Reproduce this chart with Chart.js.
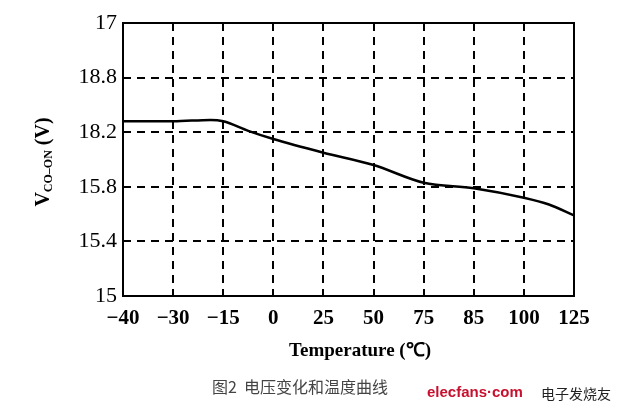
<!DOCTYPE html>
<html>
<head>
<meta charset="utf-8">
<script src="https://cdn.jsdelivr.net/npm/chart.js@4"></script>
<style>
  html, body { margin: 0; padding: 0; background: #fff; }
  #wrap { width: 630px; height: 414px; position: relative; }
</style>
</head>
<body>
<div id="wrap"><canvas id="chart" width="630" height="414"></canvas></div>
<script>
// Axis labels as printed on the figure (equally spaced)
const xTickLabels = ['\u221240', '\u221230', '\u221215', '0', '25', '50', '75', '85', '100', '125'];
const yTickValues = [15, 15.4, 15.8, 16.2, 16.6, 17];
const yTickLabels = ['15', '15.4', '15.8', '18.2', '18.8', '17'];

// Curve: x = position along the temperature axis, y = voltage
const curveX = [0, 1, 1.75, 2, 2.5, 3, 4, 5, 6, 7, 8, 8.5, 9];
const curveY = [16.28, 16.28, 16.29, 16.28, 16.21, 16.15, 16.05, 15.96, 15.83, 15.79, 15.72, 15.67, 15.59];

const points = curveX.map((x, i) => ({ x, y: curveY[i] }));

const textPlugin = {
  id: 'figureText',
  afterDraw(chart) {
    const ctx = chart.ctx;
    const area = chart.chartArea;
    ctx.save();

    // solid frame
    ctx.strokeStyle = '#000';
    ctx.lineWidth = 2;
    ctx.strokeRect(area.left, area.top, area.right - area.left, area.bottom - area.top);

    // x axis title
    ctx.fillStyle = '#000';
    ctx.font = 'bold 19px "Liberation Serif", serif';
    ctx.textAlign = 'center';
    ctx.textBaseline = 'middle';
    ctx.fillText('Temperature (\u2103)', 360, 351);

    // y axis title with subscript
    ctx.translate(42, 162);
    ctx.rotate(-Math.PI / 2);
    const main = 'bold 20px "Liberation Serif", serif';
    const sub = 'bold 12px "Liberation Serif", serif';
    ctx.font = main;
    const wV = ctx.measureText('V').width;
    const wTail = ctx.measureText(' (V)').width;
    ctx.font = sub;
    const wSub = ctx.measureText('CO\u2013ON').width;
    let x0 = -(wV + wSub + wTail) / 2;
    ctx.textAlign = 'left';
    ctx.textBaseline = 'alphabetic';
    ctx.font = main;
    ctx.fillText('V', x0, 7);
    ctx.font = sub;
    ctx.fillText('CO\u2013ON', x0 + wV, 10);
    ctx.font = main;
    ctx.fillText(' (V)', x0 + wV + wSub, 7);
    ctx.setTransform(1, 0, 0, 1, 0, 0);

    // caption
    ctx.fillStyle = '#444';
    ctx.font = '16px "Noto Sans CJK SC", sans-serif';
    ctx.textAlign = 'left';
    ctx.textBaseline = 'middle';
    ctx.fillText('图2  电压变化和温度曲线', 212, 387);

    // watermark
    ctx.fillStyle = '#c8102e';
    ctx.font = 'bold 15px "Liberation Sans", sans-serif';
    ctx.fillText('elecfans\u00b7com', 427, 393);
    ctx.fillStyle = '#222';
    ctx.font = '14px "Noto Sans CJK SC", sans-serif';
    ctx.fillText('电子发烧友', 541, 394);

    ctx.restore();
  }
};

new Chart(document.getElementById('chart'), {
  type: 'line',
  data: {
    datasets: [{
      data: points,
      borderColor: '#000',
      borderWidth: 2.5,
      pointRadius: 0,
      cubicInterpolationMode: 'monotone',
      fill: false,
    }],
  },
  options: {
    responsive: false,
    animation: false,
    layout: { padding: { left: 0, top: 23, right: 56, bottom: 0 } },
    plugins: { legend: { display: false }, tooltip: { enabled: false } },
    scales: {
      x: {
        type: 'linear',
        min: 0,
        max: 9,
        afterBuildTicks: s => { s.ticks = xTickLabels.map((_, i) => ({ value: i })); },
        afterFit: s => { s.height = 118; },
        border: { display: false, dash: [8, 6] },
        grid: { color: '#000', lineWidth: 2, drawTicks: false },
        ticks: {
          color: '#000',
          padding: 10,
          maxRotation: 0,
          autoSkip: false,
          font: { family: '"Liberation Serif", serif', size: 21, weight: 'bold' },
          callback: v => xTickLabels[v],
        },
      },
      y: {
        type: 'linear',
        min: 15,
        max: 17,
        afterBuildTicks: s => { s.ticks = yTickValues.map(v => ({ value: v })); },
        afterFit: s => { s.width = 123; },
        border: { display: false, dash: [8, 6] },
        grid: { color: '#000', lineWidth: 2, drawTicks: false },
        ticks: {
          color: '#000',
          padding: 6,
          autoSkip: false,
          font: { family: '"Liberation Serif", serif', size: 22 },
          callback: (v, i) => yTickLabels[i],
        },
      },
    },
  },
  plugins: [textPlugin],
});
</script>
</body>
</html>
